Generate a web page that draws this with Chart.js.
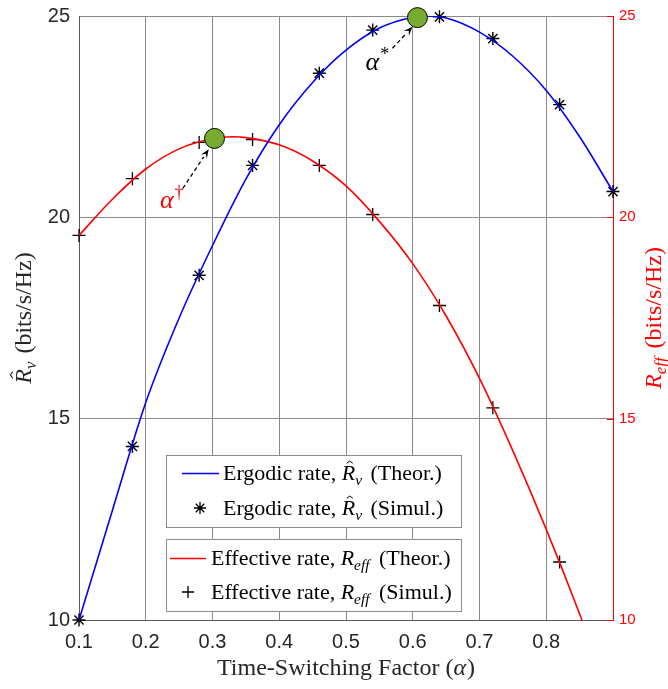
<!DOCTYPE html>
<html><head><meta charset="utf-8">
<script src="https://cdn.jsdelivr.net/npm/chart.js@4.4.0/dist/chart.umd.min.js"></script>
<style>html,body{margin:0;padding:0;background:#fff}#wrap{width:668px;height:689px;position:relative}</style>
</head><body><div id="wrap"><canvas id="c" width="668" height="689"></canvas></div>
<script>
// ---------- data ----------
const xTickValues = [0.1,0.2,0.3,0.4,0.5,0.6,0.7,0.8,0.9];
const yTickValues = [10,15,20,25];

const ergodicTheoryX = [0.1,0.15,0.2,0.25,0.3,0.35,0.4,0.45,0.5,0.55,0.6,0.62,0.65,0.7,0.75,0.8,0.85,0.9];
const ergodicTheoryY = [10,12.72,15.4,17.5,19.3,20.95,22.3,23.35,24.15,24.7,24.97,25.0,24.95,24.6,24.0,23.15,22.0,20.64];

const effectiveTheoryX = [0.1,0.15,0.2,0.25,0.3,0.33,0.35,0.4,0.45,0.5,0.55,0.6,0.65,0.7,0.75,0.8,0.85,0.87];
const effectiveTheoryY = [19.55,20.45,21.2,21.7,21.95,22.0,21.98,21.8,21.4,20.78,19.9,18.85,17.55,16.0,14.2,12.25,10.15,9.25];

const ergodicSimX = [0.1,0.18,0.28,0.36,0.46,0.54,0.64,0.72,0.82,0.9];
const ergodicSimY = [10,14.31,18.56,21.29,23.58,24.65,24.98,24.44,22.8,20.64];

const effectiveSimX = [0.1,0.18,0.28,0.36,0.46,0.54,0.64,0.72,0.82];
const effectiveSimY = [19.55,20.96,21.86,21.93,21.29,20.07,17.81,15.27,11.44];

const optimumX = [0.303, 0.607];
const optimumY = [21.96, 24.96];

// annotation arrows (data units): from -> to, and label centres
const arrowFromX = [0.2556, 0.5696];
const arrowFromY = [20.72, 24.2];
const arrowToX = [0.2944, 0.5995];
const arrowToY = [21.69, 24.73];
const arrowLabelX = [0.239, 0.547];
const arrowLabelY = [20.42, 23.86];
const arrowLabelSup = ['\u2020', '*'];
const arrowLabelColor = ['#ff0000', '#000000'];

// ---------- helpers ----------
const SERIF = '"Liberation Serif", "Times New Roman", serif';
function pts(xs, ys){ return xs.map((x,i)=>({x:x, y:ys[i]})); }

function segFont(s, size){
  const sz = s.sub ? size*0.7 : (s.sup ? size*0.7 : size);
  return (s.it ? 'italic ' : '') + sz + 'px ' + SERIF;
}
function richWidth(ctx, segs, size){
  let w = 0;
  segs.forEach(s=>{ ctx.font = segFont(s,size); w += ctx.measureText(s.t).width + (s.gap||0); });
  return w;
}
function drawRich(ctx, segs, x, y, size, color){
  ctx.save();
  ctx.fillStyle = color; ctx.strokeStyle = color;
  ctx.textBaseline = 'alphabetic'; ctx.textAlign = 'left';
  let cx = x;
  segs.forEach(s=>{
    ctx.font = segFont(s,size);
    const w = ctx.measureText(s.t).width;
    let yy = y;
    if (s.sub) yy = y + size*0.22;
    if (s.sup) yy = y - size*0.4;
    ctx.fillText(s.t, cx, yy);
    if (s.hat){
      const hx = cx + w*0.6, ht = y - size*0.86;
      ctx.lineWidth = Math.max(1, size/22);
      ctx.beginPath();
      ctx.moveTo(hx - size*0.14, ht + size*0.1);
      ctx.lineTo(hx, ht);
      ctx.lineTo(hx + size*0.14, ht + size*0.1);
      ctx.stroke();
    }
    cx += w + (s.gap||0);
  });
  ctx.restore();
  return cx - x;
}
function drawStar(ctx, x, y, r){
  ctx.beginPath();
  for (let k=0;k<4;k++){
    const a = k*Math.PI/4;
    ctx.moveTo(x - r*Math.cos(a), y - r*Math.sin(a));
    ctx.lineTo(x + r*Math.cos(a), y + r*Math.sin(a));
  }
  ctx.stroke();
}
function drawPlus(ctx, x, y, r){
  ctx.beginPath();
  ctx.moveTo(x-r,y); ctx.lineTo(x+r,y);
  ctx.moveTo(x,y-r); ctx.lineTo(x,y+r);
  ctx.stroke();
}

const ergodicLabel = (kind)=>[{t:'Ergodic rate, '},{t:'R',it:1,hat:1},{t:'v',it:1,sub:1,gap:3},{t:' ('+kind+')'}];
const effectiveLabel = (kind)=>[{t:'Effective rate, '},{t:'R',it:1},{t:'eff',it:1,sub:1,gap:4},{t:' ('+kind+')'}];

const overlayPlugin = {
  id:'overlay',
  afterDatasetsDraw(chart){
    const ctx = chart.ctx, xs = chart.scales.x, ys = chart.scales.y;
    for (let i=0;i<arrowFromX.length;i++){
      const x0 = xs.getPixelForValue(arrowFromX[i]), y0 = ys.getPixelForValue(arrowFromY[i]);
      const x1 = xs.getPixelForValue(arrowToX[i]), y1 = ys.getPixelForValue(arrowToY[i]);
      const ang = Math.atan2(y1-y0, x1-x0), L = 9, W = 3.6;
      const bx = x1 - L*Math.cos(ang), by = y1 - L*Math.sin(ang);
      ctx.save();
      ctx.strokeStyle = '#000'; ctx.lineWidth = 1.3; ctx.setLineDash([4,3]);
      ctx.beginPath(); ctx.moveTo(x0,y0); ctx.lineTo(bx,by); ctx.stroke();
      ctx.setLineDash([]); ctx.fillStyle = '#000';
      ctx.beginPath();
      ctx.moveTo(x1,y1);
      ctx.lineTo(bx + W*Math.sin(ang), by - W*Math.cos(ang));
      ctx.lineTo(x1 - L*0.6*Math.cos(ang), y1 - L*0.6*Math.sin(ang));
      ctx.lineTo(bx - W*Math.sin(ang), by + W*Math.cos(ang));
      ctx.closePath(); ctx.fill();
      ctx.restore();
      const segs = [{t:'\u03B1',it:1,gap:1},{t:arrowLabelSup[i],sup:1}];
      const lx = xs.getPixelForValue(arrowLabelX[i]), ly = ys.getPixelForValue(arrowLabelY[i]);
      const w = richWidth(ctx, segs, 26);
      drawRich(ctx, segs, lx - w/2, ly + 8, 26, arrowLabelColor[i]);
    }
    ctx.save();
    for (let i=0;i<optimumX.length;i++){
      const px = xs.getPixelForValue(optimumX[i]), py = ys.getPixelForValue(optimumY[i]);
      ctx.beginPath(); ctx.arc(px, py, 10, 0, Math.PI*2);
      ctx.fillStyle = '#77ac30'; ctx.fill();
      ctx.lineWidth = 1; ctx.strokeStyle = '#000'; ctx.stroke();
    }
    ctx.restore();
  },
  afterDraw(chart){
    const ctx = chart.ctx, ca = chart.chartArea, y2 = chart.scales.y2;
    ctx.save();
    ctx.strokeStyle = '#ff0000'; ctx.lineWidth = 1;
    yTickValues.forEach(v=>{
      const py = Math.round(y2.getPixelForValue(v)) + 0.5;
      ctx.beginPath(); ctx.moveTo(ca.right - 6, py); ctx.lineTo(ca.right, py); ctx.stroke();
    });
    ctx.restore();
    const TS = 24;
    let segs = [{t:'R',it:1,hat:1},{t:'v',it:1,sub:1,gap:2},{t:' (bits/s/Hz)'}];
    let w = richWidth(ctx, segs, TS);
    ctx.save(); ctx.translate(31, (ca.top+ca.bottom)/2); ctx.rotate(-Math.PI/2);
    drawRich(ctx, segs, -w/2, 0, TS, '#262626'); ctx.restore();

    segs = [{t:'R',it:1},{t:'eff',it:1,sub:1,gap:3},{t:' (bits/s/Hz)'}];
    w = richWidth(ctx, segs, TS);
    ctx.save(); ctx.translate(661, (ca.top+ca.bottom)/2); ctx.rotate(-Math.PI/2);
    drawRich(ctx, segs, -w/2, 0, TS, '#ff0000'); ctx.restore();

    segs = [{t:'Time-Switching Factor ('},{t:'\u03B1',it:1,gap:1},{t:')'}];
    w = richWidth(ctx, segs, TS);
    drawRich(ctx, segs, (ca.left+ca.right)/2 - w/2, 675, TS, '#262626');

    const LS = 22;
    function box(x0,y0,x1,y1){
      ctx.save(); ctx.fillStyle='#fff'; ctx.fillRect(x0,y0,x1-x0,y1-y0);
      ctx.strokeStyle='#8c8c8c'; ctx.lineWidth=1; ctx.strokeRect(x0+0.5,y0+0.5,x1-x0,y1-y0); ctx.restore();
    }
    box(166,455,461,527);
    box(166,539,461,611);
    ctx.save();
    ctx.strokeStyle='#0000ff'; ctx.lineWidth=1.6;
    ctx.beginPath(); ctx.moveTo(182,473.5); ctx.lineTo(219,473.5); ctx.stroke();
    ctx.strokeStyle='#000'; ctx.lineWidth=1.3; drawStar(ctx,200,508,6);
    ctx.strokeStyle='#ff0000'; ctx.lineWidth=1.6;
    ctx.beginPath(); ctx.moveTo(170,558.5); ctx.lineTo(206,558.5); ctx.stroke();
    ctx.strokeStyle='#000'; ctx.lineWidth=1.3; drawPlus(ctx,188,592,6);
    ctx.restore();
    drawRich(ctx, ergodicLabel('Theor.'), 223, 480, LS, '#000');
    drawRich(ctx, ergodicLabel('Simul.'), 223, 515, LS, '#000');
    drawRich(ctx, effectiveLabel('Theor.'), 211, 565, LS, '#000');
    drawRich(ctx, effectiveLabel('Simul.'), 211, 599, LS, '#000');
  }
};

new Chart(document.getElementById('c').getContext('2d'), {
  type:'scatter',
  data:{datasets:[
    {data:pts(ergodicTheoryX, ergodicTheoryY), showLine:true, borderColor:'#0000ff', borderWidth:1.6,
     pointRadius:0, cubicInterpolationMode:'monotone', yAxisID:'y'},
    {data:pts(ergodicSimX, ergodicSimY), showLine:false, pointStyle:'star', pointRadius:6.5,
     borderColor:'#000', backgroundColor:'#000', pointBorderWidth:1.4, yAxisID:'y', clip:false},
    {data:pts(effectiveTheoryX, effectiveTheoryY), showLine:true, borderColor:'#ff0000', borderWidth:1.6,
     pointRadius:0, cubicInterpolationMode:'monotone', yAxisID:'y2'},
    {data:pts(effectiveSimX, effectiveSimY), showLine:false, pointStyle:'cross', pointRadius:6.5,
     borderColor:'#000', backgroundColor:'#000', pointBorderWidth:1.3, yAxisID:'y2', clip:false}
  ]},
  options:{
    responsive:false, animation:false, devicePixelRatio:1,
    layout:{padding:{top:16,left:0,right:0,bottom:0}},
    plugins:{legend:{display:false}, tooltip:{enabled:false}},
    scales:{
      x:{type:'linear', min:0.1, max:0.9,
        afterBuildTicks:s=>{ s.ticks = xTickValues.map(v=>({value:v})); },
        ticks:{callback:v=> v>0.85 ? '' : Number(v).toFixed(1), font:{family:'"Liberation Sans", Arial, sans-serif', size:20},
               color:'#262626', padding:10, maxRotation:0, autoSkip:false},
        grid:{color:c=> (c.tick && c.tick.value>0.85) ? 'rgba(0,0,0,0)' : '#8a8a8a', drawTicks:false, lineWidth:1},
        border:{color:'#5a5a5a'},
        afterFit:s=>{ s.height = 69; s.paddingLeft = 0; s.paddingRight = 0; }
      },
      y:{type:'linear', position:'left', min:10, max:25,
        afterBuildTicks:s=>{ s.ticks = yTickValues.map(v=>({value:v})); },
        ticks:{font:{family:'"Liberation Sans", Arial, sans-serif', size:20}, color:'#262626', padding:9},
        grid:{color:'#8a8a8a', drawTicks:false, lineWidth:1},
        border:{color:'#5a5a5a'},
        afterFit:s=>{ s.width = 79; s.paddingTop = 0; s.paddingBottom = 0; }
      },
      y2:{type:'linear', position:'right', min:10, max:25,
        afterBuildTicks:s=>{ s.ticks = yTickValues.map(v=>({value:v})); },
        ticks:{font:{family:'"Liberation Sans", Arial, sans-serif', size:15}, color:'#ff0000', padding:6},
        grid:{drawOnChartArea:false, drawTicks:false},
        border:{color:'#ff0000'},
        afterFit:s=>{ s.width = 55; s.paddingTop = 0; s.paddingBottom = 0; }
      }
    }
  },
  plugins:[overlayPlugin]
});
</script>
</body></html>
